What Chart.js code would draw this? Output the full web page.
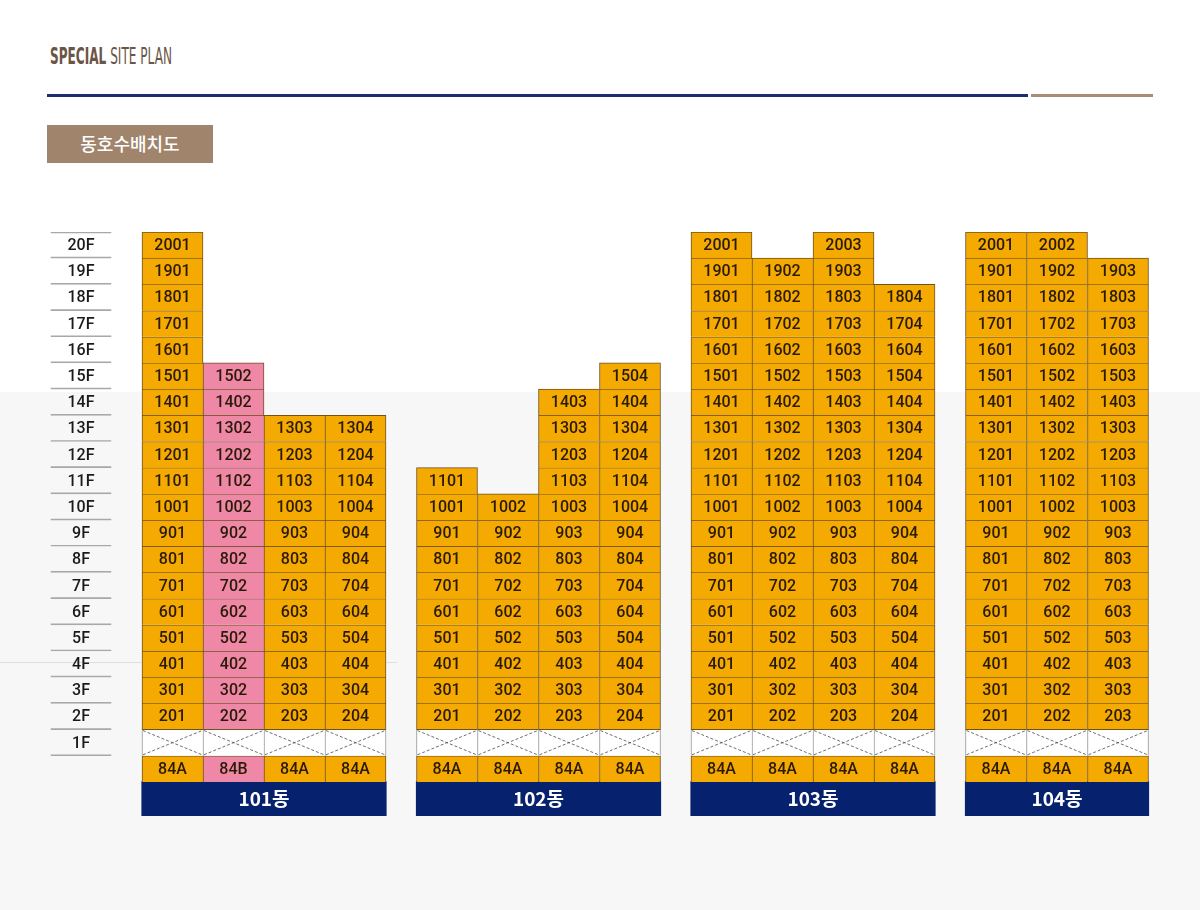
<!DOCTYPE html>
<html lang="ko">
<head>
<meta charset="utf-8">
<title>동호수배치도</title>
<script src="https://cdn.jsdelivr.net/npm/chart.js@4.4.1/dist/chart.umd.min.js"></script>
<style>
  html, body { margin: 0; padding: 0; }
  body {
    width: 1200px; height: 910px; position: relative; overflow: hidden;
    background: linear-gradient(to bottom, #fff 0, #fff 392px, #f7f7f7 392px, #f7f7f7 100%);
    font-family: "Noto Sans CJK KR", "Noto Sans", sans-serif;
  }
  .head {
    position: absolute; left: 50px; top: 43px; color: #6b5546;
    font-family: "Liberation Sans Narrow", "DejaVu Sans Condensed", sans-serif;
    font-size: 23px; white-space: nowrap;
    transform-origin: left top; transform: scaleX(0.585);
  }
  .head b { font-weight: bold; }
  .navy { position: absolute; left: 47px; top: 94px; width: 981px; height: 3px; background: #1c2e6e; }
  .brown { position: absolute; left: 1031px; top: 94px; width: 122px; height: 3px; background: #a88e77; }
  .badge {
    position: absolute; left: 47px; top: 125px; width: 166px; height: 38px;
    background: #a0846c; color: #fff; font-size: 18px; font-weight: 500;
    line-height: 37px; text-align: center;
  }
  .hair { position: absolute; left: 0; top: 662px; width: 397px; height: 1px; background: #dedede; }
  canvas { position: absolute; left: 0; top: 0; }
</style>
</head>
<body>
<div class="head"><b>SPECIAL</b> SITE PLAN</div>
<div class="navy"></div>
<div class="brown"></div>
<div class="badge">동호수배치도</div>
<div class="hair"></div>
<canvas id="plan" width="1200" height="910"></canvas>
<script>
// floor labels, bottom to top
const floorLabels = ['1F','2F','3F','4F','5F','6F','7F','8F','9F','10F',
  '11F','12F','13F','14F','15F','16F','17F','18F','19F','20F'];
const buildingNames = ['101동','102동','103동','104동'];
// top floor of each line (호) per building
const topFloors = [
  [20, 15, 13, 13],
  [11, 10, 14, 15],
  [20, 19, 20, 18],
  [20, 20, 19]
];
const unitTypes = [
  ['84A','84B','84A','84A'],
  ['84A','84A','84A','84A'],
  ['84A','84A','84A','84A'],
  ['84A','84A','84A']
];

const ORANGE = '#f4aa00';
const PINK = '#ee88a6';
const NAVY = '#06216e';
const CELL_LINE = '#6e5220';

// column centre on the x scale: buildings sit half a column apart
function colX(b, c) { return b * 4.5 + c + 0.5; }
function lastCol(b, c) { return c === topFloors[b].length - 1; }

const floorCells = floorLabels.map((t, i) => ({ x: -1, y: [i, i + 1], text: t, top: i === floorLabels.length - 1 }));

const unitCells = [];
const pilotiCells = [];
const typeCells = [];
const nameCells = [];
topFloors.forEach((tops, b) => {
  tops.forEach((top, c) => {
    for (let f = 2; f <= top; f++) {
      unitCells.push({ x: colX(b, c), y: [f - 1, f], b, c, f, text: String(f * 100 + c + 1) });
    }
    pilotiCells.push({ x: colX(b, c), y: [0, 1], b, c });
    typeCells.push({ x: colX(b, c), y: [-1, 0], b, c, text: unitTypes[b][c] });
    nameCells.push({ x: colX(b, c), y: [-2.3, -1], b, c });
  });
});

function typeColor(ctx) {
  const r = ctx.raw;
  if (!r) return ORANGE;
  return unitTypes[r.b][r.c] === '84B' ? PINK : ORANGE;
}

const cellText = {
  id: 'cellText',
  afterDatasetsDraw(chart) {
    const ctx = chart.ctx;
    ctx.save();
    chart.data.datasets.forEach((ds, i) => {
      const meta = chart.getDatasetMeta(i);
      meta.data.forEach((bar, j) => {
        const raw = ds.data[j];
        const p = bar.getProps(['x', 'y', 'base', 'width'], true);
        const top = Math.min(p.y, p.base), bottom = Math.max(p.y, p.base);
        const left = p.x - p.width / 2, right = p.x + p.width / 2;
        if (ds.cross) {
          ctx.strokeStyle = '#4a4a4a';
          ctx.lineWidth = 0.8;
          ctx.setLineDash([3, 2]);
          ctx.beginPath();
          ctx.moveTo(left + 1, top + 1); ctx.lineTo(right - 1, bottom - 1);
          ctx.moveTo(left + 1, bottom - 1); ctx.lineTo(right - 1, top + 1);
          ctx.stroke();
          ctx.setLineDash([]);
        }
        if (raw.text) {
          ctx.fillStyle = ds.textColor || '#2a1a08';
          ctx.font = ds.textFont || '500 16px Roboto';
          ctx.textAlign = 'center';
          ctx.textBaseline = 'middle';
          ctx.fillText(raw.text, p.x, (top + bottom) / 2 + 1);
        }
      });
    });
    const xs = chart.scales.x, ys = chart.scales.y;
    ctx.fillStyle = '#ffffff';
    ctx.font = 'bold 19px "Noto Sans CJK KR"';
    ctx.textAlign = 'center';
    ctx.textBaseline = 'middle';
    buildingNames.forEach((n, b) => {
      const cx = xs.getPixelForValue(b * 4.5 + topFloors[b].length / 2);
      ctx.fillText(n, cx, ys.getPixelForValue(-1.65));
    });
    ctx.restore();
  }
};

new Chart(document.getElementById('plan'), {
  type: 'bar',
  data: {
    datasets: [
      {
        label: 'floors',
        data: floorCells,
        backgroundColor: 'rgba(0,0,0,0)',
        borderColor: '#a8a8a8',
        borderWidth: ctx => {
          const r = ctx.raw;
          return { top: r && r.top ? 1 : 0, bottom: 1, left: 0, right: 0 };
        },
        textColor: '#1a1a1a',
        textFont: '500 16px Roboto'
      },
      {
        label: 'units',
        data: unitCells,
        backgroundColor: typeColor,
        borderColor: CELL_LINE,
        borderWidth: ctx => {
          const r = ctx.raw;
          if (!r) return 1;
          const next = topFloors[r.b][r.c + 1];
          return {
            top: 1, left: 1,
            right: (lastCol(r.b, r.c) || next < r.f) ? 1 : 0,
            bottom: r.f === 2 ? 1 : 0
          };
        }
      },
      {
        label: 'piloti',
        data: pilotiCells,
        cross: true,
        backgroundColor: '#ffffff',
        borderColor: '#9a9a9a',
        borderWidth: ctx => {
          const r = ctx.raw;
          if (!r) return 1;
          return { top: 0, bottom: 0, left: 1, right: lastCol(r.b, r.c) ? 1 : 0 };
        }
      },
      {
        label: 'types',
        data: typeCells,
        backgroundColor: typeColor,
        borderColor: CELL_LINE,
        borderWidth: ctx => {
          const r = ctx.raw;
          if (!r) return 1;
          return { top: 1, bottom: 0, left: 1, right: lastCol(r.b, r.c) ? 1 : 0 };
        }
      },
      {
        label: 'names',
        data: nameCells,
        backgroundColor: NAVY,
        borderWidth: 0,
        inflateAmount: 0.6
      }
    ]
  },
  options: {
    responsive: false,
    animation: false,
    devicePixelRatio: 1,
    layout: { padding: { left: 20, right: 21, top: 232, bottom: 94 } },
    datasets: {
      bar: { grouped: false, barPercentage: 1, categoryPercentage: 1, borderSkipped: false }
    },
    scales: {
      x: { type: 'linear', min: -2, max: 17, offset: false, display: false, ticks: { stepSize: 1 } },
      y: { type: 'linear', min: -2.3, max: 20, display: false }
    },
    plugins: {
      legend: { display: false },
      tooltip: { enabled: false }
    }
  },
  plugins: [cellText]
});
</script>
</body>
</html>
